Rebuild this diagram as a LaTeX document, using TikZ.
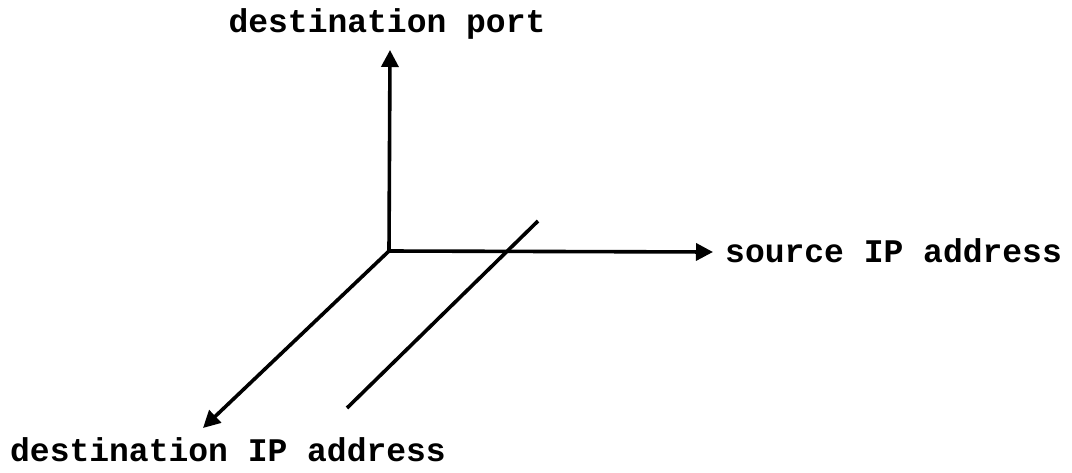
\documentclass[tikz,border=0pt]{standalone}
\usepackage{fontspec}
\setmonofont{Liberation Mono}
\usetikzlibrary{arrows.meta}
\begin{document}
\begin{tikzpicture}[x=1pt,y=-1pt,
  axis/.style={line width=3.6pt,-{Triangle[length=17pt,width=17pt]}},
  plain/.style={line width=3.6pt},
  lbl/.style={font=\ttfamily\bfseries\fontsize{33}{36}\selectfont,inner sep=0pt}]
  \useasboundingbox (0,0) rectangle (1072,472);
  % axes meeting at the origin
  \coordinate (O) at (389,251);
  \coordinate (ytip) at (390,50);
  \coordinate (xtip) at (713,252);
  \coordinate (ztip) at (203,428);
  \draw[axis] (O) -- (ytip);
  \draw[axis] (O) -- (xtip);
  \draw[axis] (O) -- (ztip);
  % line parallel to the destination IP axis
  \coordinate (la) at (347,408);
  \coordinate (lb) at (538,221);
  \draw[plain] (la) -- (lb);
  % axis labels
  \node[lbl,anchor=base] (ylab) at (387,32) {destination port};
  \node[lbl,anchor=base west] (xlab) at (725,262) {source IP address};
  \node[lbl,anchor=base west] (zlab) at (10,461) {destination IP address};
\end{tikzpicture}
\end{document}
